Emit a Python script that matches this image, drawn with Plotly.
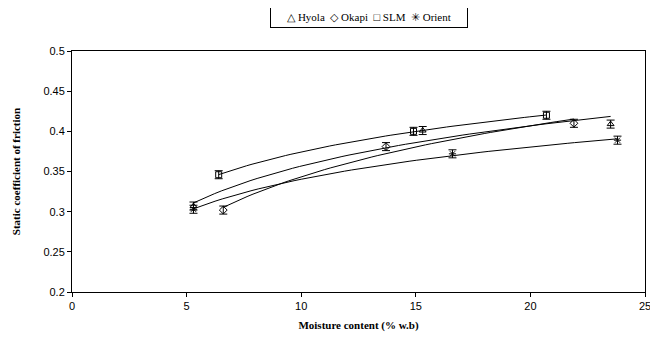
import numpy as np
import plotly.graph_objects as go

# Data
series_names = ["Hyola", "Okapi", "SLM", "Orient"]
hyola_x = [5.3, 15.3, 23.5]
hyola_y = [0.307, 0.401, 0.409]
okapi_x = [6.6, 13.7, 21.9]
okapi_y = [0.302, 0.381, 0.410]
slm_x = [6.4, 14.9, 20.7]
slm_y = [0.346, 0.400, 0.420]
orient_x = [5.3, 16.6, 23.8]
orient_y = [0.303, 0.372, 0.389]
err = [0.005, 0.005, 0.005]

symbols = {"Hyola": "triangle-up-open", "Okapi": "diamond-open",
           "SLM": "square-open", "Orient": "asterisk-open"}
data = {"Hyola": (hyola_x, hyola_y), "Okapi": (okapi_x, okapi_y),
        "SLM": (slm_x, slm_y), "Orient": (orient_x, orient_y)}

fig = go.Figure()
for name in series_names:
    xs, ys = data[name]
    # logarithmic trendline (as in spreadsheet software)
    a, b = np.polyfit(np.log(xs), ys, 1)
    xt = np.linspace(min(xs), max(xs), 60)
    fig.add_trace(go.Scatter(x=xt, y=a * np.log(xt) + b, mode="lines",
                             line=dict(color="black", width=1), showlegend=False,
                             hoverinfo="skip"))
for name in series_names:
    xs, ys = data[name]
    fig.add_trace(go.Scatter(
        x=xs, y=ys, mode="markers", name=name, showlegend=False,
        marker=dict(symbol=symbols[name], size=6, color="black",
                    line=dict(color="black", width=1)),
        error_y=dict(type="data", array=err, color="black", thickness=1, width=4)))

fig.update_layout(
    width=650, height=335,
    margin=dict(l=64, r=13, t=43, b=51),
    paper_bgcolor="white", plot_bgcolor="white",
    font=dict(family="Liberation Sans, Arial, sans-serif", size=11, color="black"),
)
fig.update_xaxes(range=[0, 25], dtick=5, tick0=0, showgrid=False, zeroline=False,
                 automargin=False,
                 showline=True, linecolor="black", linewidth=1, mirror=True,
                 ticks="outside", ticklen=4, tickcolor="black",
                 title=dict(text="<b>Moisture content (% w.b)</b>", standoff=10,
                            font=dict(family="Liberation Serif, Times New Roman, serif", size=11)))
fig.update_yaxes(range=[0.2, 0.5], dtick=0.05, tick0=0.2, showgrid=False, zeroline=False,
                 automargin=False,
                 showline=True, linecolor="black", linewidth=1, mirror=True,
                 ticks="outside", ticklen=4, tickcolor="black",
                 title=dict(text="<b>Static coefficient of friction</b>", standoff=20,
                            font=dict(family="Liberation Serif, Times New Roman, serif", size=11)))

legend_text = "△ Hyola &nbsp;◇ Okapi &nbsp;□ SLM &nbsp;✳ Orient"
fig.add_annotation(x=0.518, y=1.0, xref="paper", yref="paper", yshift=34,
                   xanchor="center", yanchor="middle", showarrow=False,
                   text=legend_text, width=188, align="center",
                   bordercolor="black", borderwidth=1, borderpad=4,
                   bgcolor="white",
                   font=dict(family="Liberation Serif, Times New Roman, serif", size=11, color="black"))

fig.write_html("out.html")
